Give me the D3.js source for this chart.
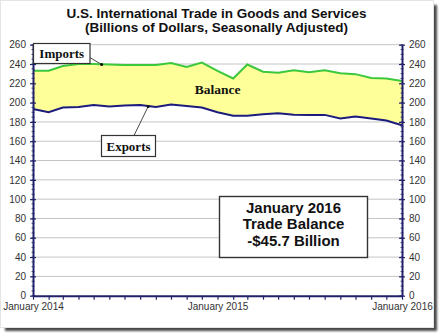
<!DOCTYPE html>
<html><head><meta charset="utf-8">
<script src="https://cdn.jsdelivr.net/npm/d3@7"></script>
<style>
html,body{margin:0;padding:0;background:#fff;}
svg{display:block;}
</style></head>
<body>
<script>
// ---- data ----
const months = d3.range(25).map(i => new Date(2014, i, 1));
const imports = [233, 233, 238, 240, 240, 239.5, 239, 239, 239, 241, 237, 241.4, 233, 225, 239.5, 232, 231, 233.5, 231.5, 233.5, 230.5, 229.5, 225.5, 225, 222.4];
const exports = [193.4, 190, 195, 195.5, 197.5, 196, 197, 197.5, 195.5, 198, 196.5, 195, 190, 186.5, 186.5, 188, 189, 187.5, 187.3, 187.3, 183.5, 185.5, 183.5, 181.5, 176.6];
const yTicks = [0,20,40,60,80,100,120,140,160,180,200,220,240,260];
const xLabels = ["January 2014", "January 2015", "January 2016"];
const title = ["U.S. International Trade in Goods and Services", "(Billions of Dollars, Seasonally Adjusted)"];
const infoLines = ["January 2016", "Trade Balance", "-$45.7 Billion"];

const W = 439, H = 335;
const svg = d3.select("body").append("svg").attr("width", W).attr("height", H);

// frame with shadow
const defs = svg.append("defs");
const f = defs.append("filter").attr("id","blur").attr("x","-5%").attr("y","-5%").attr("width","110%").attr("height","110%");
f.append("feGaussianBlur").attr("stdDeviation", 1.2);
svg.append("rect").attr("x", 5).attr("y", 5).attr("width", 432).attr("height", 326)
  .attr("fill", "#4a4a4a").attr("filter", "url(#blur)");
svg.append("rect").attr("x", 0.5).attr("y", 0.5).attr("width", 433).attr("height", 327)
  .attr("fill", "#fff").attr("stroke", "#e4e4e4");

const L = 33, R = 402, T = 44.7, B = 295.7;
const x = d3.scaleTime().domain([months[0], months[24]]).range([L, R]);
const y = d3.scaleLinear().domain([0, 260]).range([B, T]);
const axisColor = "#22226a";

// grid
svg.append("g").selectAll("line").data(yTicks.filter(d => d > 0)).join("line")
  .attr("x1", L).attr("x2", R).attr("y1", d => y(d)).attr("y2", d => y(d))
  .attr("stroke", "#c4c4c4").attr("stroke-width", 1);

// fill between
const area = d3.area().x((d,i) => x(months[i])).y0((d,i) => y(exports[i])).y1(d => y(d));
svg.append("path").datum(imports).attr("d", area).attr("fill", "#ffff99");

const line = d3.line().x((d,i) => x(months[i])).y(d => y(d));
svg.append("path").datum(imports).attr("d", line).attr("fill", "none")
  .attr("stroke", "#3cc83c").attr("stroke-width", 2);
svg.append("path").datum(exports).attr("d", line).attr("fill", "none")
  .attr("stroke", "#1c1c7c").attr("stroke-width", 2);

// axes
const fontAxis = "Liberation Sans, Arial, sans-serif";
function styleAxis(g) {
  g.select(".domain").attr("stroke", axisColor).attr("stroke-width", 2);
  g.selectAll(".tick line").attr("stroke", axisColor).attr("stroke-width", 1.2);
  g.selectAll(".tick text").attr("fill", "#333").attr("font-family", fontAxis).attr("font-size", 10);
}
const minor = d3.range(0, 261, 5);
// minor ticks
[L, R].forEach(px => {
  svg.append("g").selectAll("line").data(minor).join("line")
    .attr("x1", px - 1.5).attr("x2", px + 1.5).attr("y1", d => y(d)).attr("y2", d => y(d))
    .attr("stroke", axisColor).attr("stroke-width", 0.8);
});
const gl = svg.append("g").attr("transform", `translate(${L},0)`)
  .call(d3.axisLeft(y).tickValues(yTicks).tickSize(3).tickSizeOuter(0).tickPadding(4));
styleAxis(gl);
gl.selectAll(".tick line").attr("x2", -3).attr("x1", 3);
const gr = svg.append("g").attr("transform", `translate(${R},0)`)
  .call(d3.axisRight(y).tickValues(yTicks).tickSize(3).tickSizeOuter(0).tickPadding(4));
styleAxis(gr);
gr.selectAll(".tick line").attr("x1", -3).attr("x2", 3);

const gb = svg.append("g").attr("transform", `translate(0,${B})`)
  .call(d3.axisBottom(x).tickValues(months).tickSize(4).tickSizeOuter(0).tickPadding(3)
    .tickFormat(d => d.getMonth() === 0 ? xLabels[d.getFullYear() - 2014] : ""));
styleAxis(gb);

// title
const tt = svg.append("text").attr("x", 216.5).attr("text-anchor", "middle")
  .attr("font-family", fontAxis).attr("font-weight", "bold").attr("font-size", 13.5).attr("fill", "#111");
tt.selectAll("tspan").data(title).join("tspan").attr("x", 216.5).attr("y", (d,i) => 17.5 + i * 14.5).text(d => d);

// labels
const serif = "Liberation Serif, Times New Roman, serif";
function labelBox(bx, by, bw, bh, txt, lx1, ly1, lx2, ly2) {
  svg.append("line").attr("x1", lx1).attr("y1", ly1).attr("x2", lx2).attr("y2", ly2)
    .attr("stroke", "#333").attr("stroke-width", 0.9);
  svg.append("circle").attr("cx", lx2).attr("cy", ly2).attr("r", 1.5).attr("fill", "#111");
  svg.append("rect").attr("x", bx).attr("y", by).attr("width", bw).attr("height", bh)
    .attr("fill", "#fff").attr("stroke", "#333").attr("stroke-width", 1.2);
  svg.append("text").attr("x", bx + bw/2).attr("y", by + bh/2 + 4.5).attr("text-anchor", "middle")
    .attr("font-family", serif).attr("font-weight", "bold").attr("font-size", 13).attr("fill", "#111").text(txt);
}
labelBox(33.5, 43.5, 56.5, 20, "Imports", 89, 57, x(months[4]) + 8, y(imports[4]) + 0.5);
labelBox(101.5, 135.5, 54, 21, "Exports", 134, 135.5, x(months[7]) + 8, y(exports[7]) + 1.5);

svg.append("text").attr("x", 217.5).attr("y", 94).attr("text-anchor", "middle")
  .attr("font-family", serif).attr("font-weight", "bold").attr("font-size", 13.5).attr("fill", "#111").text("Balance");

// info box
svg.append("rect").attr("x", 219.5).attr("y", 196.5).attr("width", 148).attr("height", 61)
  .attr("fill", "#fff").attr("stroke", "#333").attr("stroke-width", 1.4);
svg.append("g").selectAll("text").data(infoLines).join("text")
  .attr("x", 293.5).attr("y", (d,i) => 212.5 + i * 16.7).attr("text-anchor", "middle")
  .attr("font-family", fontAxis).attr("font-weight", "bold").attr("font-size", 15).attr("fill", "#111").text(d => d);
</script>
</body></html>
